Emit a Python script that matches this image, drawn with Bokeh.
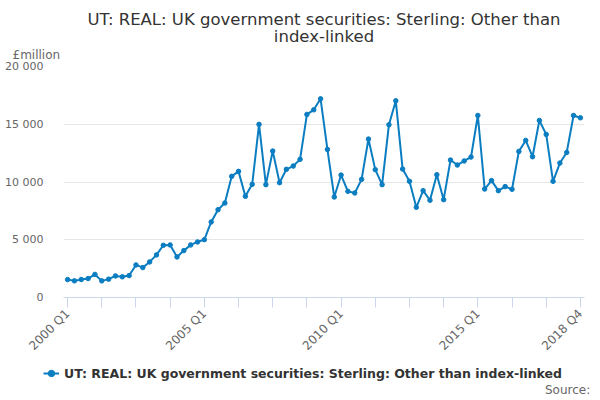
import math
from bokeh.plotting import figure
from bokeh.layouts import column
from bokeh.models import FixedTicker, Legend, LegendItem, Title, Range1d
from bokeh.embed import file_html
from bokeh.resources import INLINE

# ---- data ----
years = list(range(2000, 2019))
quarters = [f"{y} Q{q}" for y in years for q in range(1, 5)]
values = [
    1550, 1440, 1560, 1640, 2000, 1440, 1590, 1870, 1790, 1900,
    2820, 2590, 3080, 3690, 4520, 4550, 3510, 4060, 4550, 4810,
    5010, 6540, 7600, 8180, 10490, 10920, 8760, 9800, 14990, 9770,
    12680, 9940, 11100, 11380, 11960, 15850, 16250, 17200, 12820, 8700,
    10600, 9190, 9050, 10230, 13720, 11070, 9770, 14960, 17030, 11120,
    10060, 7810, 9250, 8420, 10630, 8470, 11900, 11470, 11820, 12160,
    15760, 9390, 10120, 9250, 9600, 9370, 12650, 13600, 12190, 15330,
    14120, 10060, 11640, 12560, 15760, 15560,
]
x_tick_idx = list(range(0, 76, 5))
x_label_idx = [0, 20, 40, 60, 75]
y_ticks = [0, 5000, 10000, 15000, 20000]
y_tick_labels = ["0", "5 000", "10 000", "15 000", "20 000"]
series_name = "UT: REAL: UK government securities: Sterling: Other than index-linked"
title_line1 = "UT: REAL: UK government securities: Sterling: Other than"
title_line2 = "index-linked"
unit_text = "£million"
source_text = "Source:"

FONT = "DejaVu Sans"
BLUE = "#0b7dc1"

x = list(range(len(values)))

p = figure(width=600, height=360, output_backend="svg", toolbar_location=None,
           x_range=Range1d(-0.6, 75.6), y_range=Range1d(0, 20000),
           min_border_left=63, min_border_right=16, min_border_top=66,
           min_border_bottom=63, title=None)
p.outline_line_color = None
p.background_fill_color = "white"

# titles (first added = closest to the frame)
p.add_layout(Title(text=unit_text, align="left", offset=-51, standoff=10,
                   text_font=FONT, text_font_size="12px", text_font_style="normal",
                   text_color="#666666"), "above")
p.add_layout(Title(text=title_line2, align="center", standoff=-11,
                   text_font=FONT, text_font_size="16.5px", text_font_style="normal",
                   text_color="#333333"), "above")
p.add_layout(Title(text=title_line1, align="center", standoff=3,
                   text_font=FONT, text_font_size="16.5px", text_font_style="normal",
                   text_color="#333333"), "above")

p.line(x, values, line_color=BLUE, line_width=2)
p.scatter(x, values, marker="circle", size=4.5, fill_color=BLUE, line_color=BLUE)

# x axis
xa = p.xaxis[0]
xa.ticker = FixedTicker(ticks=x_tick_idx, minor_ticks=[])
xa.major_label_overrides = {i: (quarters[i] if i in x_label_idx else "") for i in x_tick_idx}
xa.major_label_orientation = math.pi / 4
xa.axis_line_color = "#ccd6eb"
xa.major_tick_line_color = "#ccd6eb"
xa.major_tick_out = 10
xa.major_tick_in = 0
xa.minor_tick_line_color = None
xa.major_label_text_font = FONT
xa.major_label_text_font_size = "12px"
xa.major_label_text_color = "#666666"
xa.major_label_standoff = 4

# y axis
ya = p.yaxis[0]
ya.ticker = FixedTicker(ticks=y_ticks, minor_ticks=[])
ya.major_label_overrides = {t: lab for t, lab in zip(y_ticks, y_tick_labels)}
ya.axis_line_color = None
ya.major_tick_line_color = None
ya.minor_tick_line_color = None
ya.major_label_text_font = FONT
ya.major_label_text_font_size = "11px"
ya.major_label_text_color = "#666666"
ya.major_label_standoff = 14

p.xgrid.grid_line_color = None
p.ygrid.ticker = FixedTicker(ticks=y_ticks)
p.ygrid.grid_line_color = "#e6e6e6"

# ---- footer figure: legend + source ----
f = figure(width=600, height=40, frame_width=600, frame_height=40,
           output_backend="svg", toolbar_location=None,
           x_range=Range1d(0, 600), y_range=Range1d(0, 40),
           min_border=0, min_border_left=0, min_border_right=0,
           min_border_top=0, min_border_bottom=0,
           x_axis_type=None, y_axis_type=None)
f.outline_line_color = None
f.grid.grid_line_color = None
# legend proxies: same series, far outside the footer's ranges (not visible)
dl = f.line(x, values, line_color=BLUE, line_width=2)
ds = f.scatter(x, values, marker="circle", size=4.5, fill_color=BLUE, line_color=BLUE)
dn = f.line(x, values, line_alpha=0)

legend = Legend(items=[LegendItem(label=series_name, renderers=[dl, ds])],
                location=(43, 19), orientation="horizontal",
                label_text_font=FONT, label_text_font_size="12.5px",
                label_text_font_style="bold", label_text_color="#333333",
                glyph_width=16, glyph_height=16, label_height=16,
                label_standoff=5, padding=0, margin=0,
                border_line_color=None, background_fill_alpha=0)
f.add_layout(legend)

source_legend = Legend(items=[LegendItem(label=source_text, renderers=[dn])],
                       location=(545, 3), orientation="horizontal",
                       label_text_font=FONT, label_text_font_size="12px",
                       label_text_font_style="normal", label_text_color="#666666",
                       glyph_width=0, glyph_height=14, label_height=14,
                       label_standoff=0, padding=0, margin=0,
                       border_line_color=None, background_fill_alpha=0)
f.add_layout(source_legend)

layout = column(p, f, spacing=0)
open("out.html", "w").write(file_html(layout, INLINE))
